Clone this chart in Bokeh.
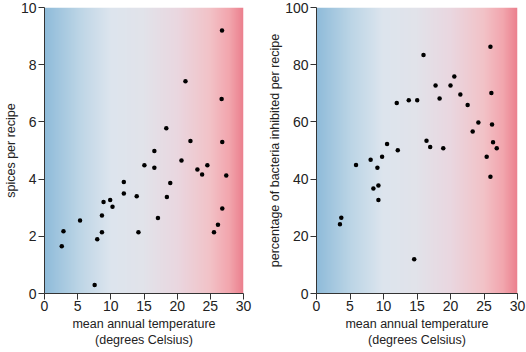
import numpy as np
from bokeh.plotting import figure
from bokeh.layouts import row
from bokeh.models import Range1d, FixedTicker
from bokeh.embed import file_html
from bokeh.resources import INLINE

# Left panel: spices per recipe vs temperature
temp_spices = [2.6, 2.86, 5.36, 7.56, 7.95, 8.66, 8.66, 8.9, 9.9, 10.25, 11.96, 11.96,
               13.9, 14.16, 15.06, 16.56, 16.56, 17.1, 18.36, 18.45, 18.96, 20.65,
               21.25, 22.0, 23.05, 23.76, 24.55, 25.55, 26.15, 26.76, 26.7, 26.8, 26.8, 27.4]
spices = [1.65, 2.18, 2.55, 0.3, 1.9, 2.14, 2.73, 3.2, 3.27, 3.03, 3.9, 3.5,
          3.4, 2.14, 4.48, 4.98, 4.4, 2.64, 5.78, 3.37, 3.86, 4.65,
          7.42, 5.33, 4.34, 4.16, 4.48, 2.14, 2.4, 9.2, 6.8, 5.3, 2.97, 4.13]

# Right panel: percentage of bacteria inhibited vs temperature
temp_bact = [25.96, 15.97, 20.57, 17.77, 20.0, 26.1, 21.47, 18.37, 13.77, 15.03, 11.98,
             22.56, 24.16, 23.31, 26.2, 16.42, 26.35, 10.53, 16.97, 18.92, 26.9, 12.13,
             25.4, 5.9, 8.08, 9.09, 9.79, 25.96, 9.24, 8.49, 9.24, 3.70, 3.5, 14.58]
bacteria = [86.3, 83.4, 75.9, 72.7, 72.7, 70.1, 69.6, 68.2, 67.6, 67.6, 66.6,
            65.9, 59.8, 56.6, 59.1, 53.4, 52.9, 52.3, 51.2, 50.8, 50.8, 50.1,
            47.8, 44.9, 46.8, 44.0, 47.8, 40.8, 37.8, 36.7, 32.7, 26.5, 24.2, 12.0]

x_ticks = [0, 5, 10, 15, 20, 25, 30]
left_ticks = [0, 2, 4, 6, 8, 10]
right_ticks = [0, 20, 40, 60, 80, 100]

FONT = "Liberation Sans"
AXIS_COLOR = "#333333"

# gradient stops (position 0..1, rgb)
stops = [(0.0, (143, 188, 218)), (0.17, (188, 213, 230)), (0.33, (221, 229, 238)),
         (0.5, (226, 227, 234)), (0.67, (234, 215, 224)), (0.83, (242, 195, 200)),
         (0.93, (242, 166, 174)), (1.0, (236, 128, 142))]


def gradient_img(n=300):
    pos = np.linspace(0, 1, n)
    sp = [s[0] for s in stops]
    r = np.interp(pos, sp, [s[1][0] for s in stops])
    g = np.interp(pos, sp, [s[1][1] for s in stops])
    b = np.interp(pos, sp, [s[1][2] for s in stops])
    img = np.empty((1, n), dtype=np.uint32)
    view = img.view(dtype=np.uint8).reshape((1, n, 4))
    view[0, :, 0] = r.astype(np.uint8)
    view[0, :, 1] = g.astype(np.uint8)
    view[0, :, 2] = b.astype(np.uint8)
    view[0, :, 3] = 255
    return img


def make_panel(xs, ys, ymax, yticks, ylabel, border_left, border_right):
    p = figure(width=263, height=352, output_backend="svg", toolbar_location=None,
               x_range=Range1d(0, 30), y_range=Range1d(0, ymax),
               min_border_left=border_left, min_border_right=border_right,
               min_border_top=7, min_border_bottom=59)
    p.image_rgba(image=[gradient_img()], x=0, y=0, dw=30, dh=ymax)
    p.scatter(xs, ys, size=4.5, fill_color="black", line_color=None)
    p.grid.visible = False
    p.outline_line_color = None
    p.background_fill_color = "white"
    p.border_fill_color = "white"
    p.xaxis.ticker = FixedTicker(ticks=x_ticks)
    p.yaxis.ticker = FixedTicker(ticks=yticks)
    p.xaxis.axis_label = "mean annual temperature\n(degrees Celsius)"
    p.yaxis.axis_label = ylabel
    for ax in (p.xaxis, p.yaxis):
        ax.axis_line_color = AXIS_COLOR
        ax.major_tick_line_color = AXIS_COLOR
        ax.minor_tick_line_color = None
        ax.major_tick_in = 0
        ax.major_label_text_font = FONT
        ax.major_label_text_font_size = "14px"
        ax.major_label_text_color = "#222222"
        ax.axis_label_text_font = FONT
        ax.axis_label_text_font_size = "12.5px"
        ax.axis_label_text_font_style = "normal"
        ax.axis_label_text_color = "#222222"
    p.xaxis.major_tick_out = 6
    p.yaxis.major_tick_out = 6
    p.xaxis.major_label_standoff = 1
    p.yaxis.major_label_standoff = 2
    p.xaxis.axis_label_standoff = 3
    p.yaxis.axis_label_standoff = 0
    return p


p1 = make_panel(temp_spices, spices, 10, left_ticks, "spices per recipe", 43, 20)
p2 = make_panel(temp_bact, bacteria, 100, right_ticks,
                "percentage of bacteria inhibited per recipe", 53, 9)

layout = row(p1, p2)
open("out.html", "w").write(file_html(layout, INLINE))
